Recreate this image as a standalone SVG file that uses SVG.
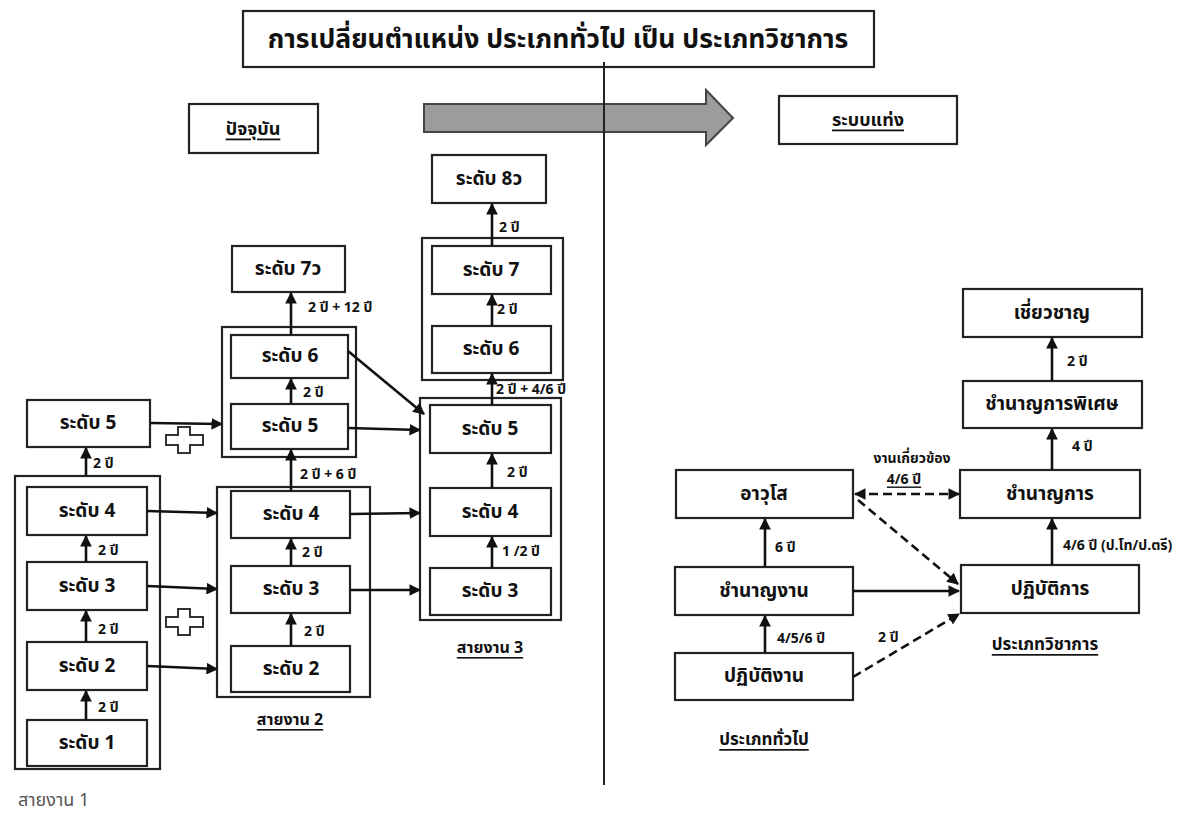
<svg xmlns="http://www.w3.org/2000/svg" width="1202" height="829" viewBox="0 0 1202 829">
<style>
.box{fill:#fff;stroke:#222;stroke-width:2.2}
.grp{fill:none;stroke:#222;stroke-width:2.2}
.t{font-family:"Noto Sans Thai","Loma","Garuda","Tlwg Typo","DejaVu Sans",sans-serif;font-weight:bold;fill:#111;text-anchor:middle;dominant-baseline:central}
.n{font-size:19px}
.lb{font-size:14px;text-anchor:start}
.u{text-decoration:underline}
.c{fill:none;stroke:#111;stroke-width:2.6}
.d{fill:none;stroke:#111;stroke-width:2.6;stroke-dasharray:9 5}
.plus{fill:#fff;stroke:#333;stroke-width:2}
</style>
<defs>
<marker id="ah" viewBox="0 0 10 10" refX="9" refY="5" markerWidth="4.5" markerHeight="4.5" orient="auto-start-reverse"><path d="M0,0 L10,5 L0,10 z" fill="#111"/></marker>
</defs>
<rect width="1202" height="829" fill="#fff"/>
<g id="title"><rect class="box" x="243" y="11" width="631" height="56"/><text class="t" x="558" y="40" font-size="26.5">การเปลี่ยนตำแหน่ง ประเภททั่วไป เป็น ประเภทวิชาการ</text></g>
<g id="hdr-current"><rect class="box" x="189" y="104" width="129" height="49"/><text class="t u" x="253" y="129" font-size="18">ปัจจุบัน</text></g>
<g id="big-arrow"><path d="M424,104 H706 V90 L733,118 L706,145 V132 H424 Z" fill="#9c9c9c" stroke="#444" stroke-width="2"/></g>
<g id="hdr-new"><rect class="box" x="779" y="96" width="178" height="48"/><text class="t u" x="868" y="120" font-size="18">ระบบแท่ง</text></g>
<g id="divider"><line x1="604" y1="62" x2="604" y2="785" stroke="#222" stroke-width="2"/></g>

<g id="group1"><rect class="grp" x="15" y="476" width="145" height="293"/></g>
<g id="group2a"><rect class="grp" x="222" y="327" width="134" height="130"/></g>
<g id="group2b"><rect class="grp" x="217" y="487" width="153" height="210"/></g>
<g id="group3a"><rect class="grp" x="422" y="238" width="141" height="142"/></g>
<g id="group3b"><rect class="grp" x="420" y="398" width="141" height="222"/></g>

<g id="l1-5"><rect class="box" x="27" y="400" width="123" height="47"/><text class="t n" x="88" y="423">ระดับ 5</text></g>
<g id="l1-4"><rect class="box" x="27" y="487" width="120" height="48"/><text class="t n" x="87" y="511">ระดับ 4</text></g>
<g id="l1-3"><rect class="box" x="27" y="562" width="120" height="48"/><text class="t n" x="87" y="586">ระดับ 3</text></g>
<g id="l1-2"><rect class="box" x="27" y="642" width="120" height="48"/><text class="t n" x="87" y="666">ระดับ 2</text></g>
<g id="l1-1"><rect class="box" x="27" y="720" width="120" height="46"/><text class="t n" x="87" y="743">ระดับ 1</text></g>

<g id="l2-7v"><rect class="box" x="232" y="246" width="113" height="46"/><text class="t n" x="288" y="269">ระดับ 7ว</text></g>
<g id="l2-6"><rect class="box" x="231" y="335" width="117" height="43"/><text class="t n" x="290" y="356">ระดับ 6</text></g>
<g id="l2-5"><rect class="box" x="231" y="404" width="117" height="45"/><text class="t n" x="290" y="426">ระดับ 5</text></g>
<g id="l2-4"><rect class="box" x="231" y="491" width="119" height="47"/><text class="t n" x="291" y="514">ระดับ 4</text></g>
<g id="l2-3"><rect class="box" x="231" y="566" width="119" height="47"/><text class="t n" x="291" y="589">ระดับ 3</text></g>
<g id="l2-2"><rect class="box" x="231" y="646" width="119" height="46"/><text class="t n" x="291" y="669">ระดับ 2</text></g>

<g id="l3-8v"><rect class="box" x="432" y="155" width="114" height="48"/><text class="t n" x="489" y="179">ระดับ 8ว</text></g>
<g id="l3-7"><rect class="box" x="432" y="246" width="119" height="48"/><text class="t n" x="491" y="270">ระดับ 7</text></g>
<g id="l3-6"><rect class="box" x="432" y="326" width="119" height="47"/><text class="t n" x="491" y="349">ระดับ 6</text></g>
<g id="l3-5"><rect class="box" x="430" y="405" width="121" height="48"/><text class="t n" x="490" y="429">ระดับ 5</text></g>
<g id="l3-4"><rect class="box" x="430" y="488" width="121" height="48"/><text class="t n" x="490" y="512">ระดับ 4</text></g>
<g id="l3-3"><rect class="box" x="430" y="568" width="121" height="47"/><text class="t n" x="490" y="591">ระดับ 3</text></g>

<g id="r-expert"><rect class="box" x="963" y="289" width="179" height="48"/><text class="t n" x="1052" y="313">เชี่ยวชาญ</text></g>
<g id="r-special"><rect class="box" x="963" y="381" width="179" height="47"/><text class="t n" x="1052" y="404">ชำนาญการพิเศษ</text></g>
<g id="r-pro"><rect class="box" x="960" y="470" width="180" height="48"/><text class="t n" x="1050" y="494">ชำนาญการ</text></g>
<g id="r-op"><rect class="box" x="961" y="565" width="178" height="48"/><text class="t n" x="1050" y="589">ปฏิบัติการ</text></g>
<g id="g-senior"><rect class="box" x="676" y="470" width="177" height="48"/><text class="t n" x="764" y="494">อาวุโส</text></g>
<g id="g-exp"><rect class="box" x="675" y="567" width="178" height="48"/><text class="t n" x="764" y="591">ชำนาญงาน</text></g>
<g id="g-op"><rect class="box" x="675" y="653" width="178" height="47"/><text class="t n" x="764" y="676">ปฏิบัติงาน</text></g>

<g id="plus1"><path class="plus" d="M178,427 h12 v8 h13 v10 h-13 v8 h-12 v-8 h-12 v-10 h12 z"/></g>
<g id="plus2"><path class="plus" d="M178,609 h12 v8 h13 v10 h-13 v8 h-12 v-8 h-12 v-10 h12 z"/></g>

<g id="connectors">
<line class="c" x1="86" y1="720" x2="86" y2="691" marker-end="url(#ah)"/>
<line class="c" x1="86" y1="642" x2="86" y2="611" marker-end="url(#ah)"/>
<line class="c" x1="86" y1="562" x2="86" y2="536" marker-end="url(#ah)"/>
<line class="c" x1="86" y1="476" x2="86" y2="448" marker-end="url(#ah)"/>
<line class="c" x1="291" y1="646" x2="291" y2="614" marker-end="url(#ah)"/>
<line class="c" x1="291" y1="566" x2="291" y2="539" marker-end="url(#ah)"/>
<line class="c" x1="291" y1="491" x2="291" y2="450" marker-end="url(#ah)"/>
<line class="c" x1="291" y1="404" x2="291" y2="379" marker-end="url(#ah)"/>
<line class="c" x1="291" y1="335" x2="291" y2="293" marker-end="url(#ah)"/>
<line class="c" x1="492" y1="568" x2="492" y2="537" marker-end="url(#ah)"/>
<line class="c" x1="492" y1="488" x2="492" y2="454" marker-end="url(#ah)"/>
<line class="c" x1="492" y1="405" x2="492" y2="374" marker-end="url(#ah)"/>
<line class="c" x1="492" y1="326" x2="492" y2="295" marker-end="url(#ah)"/>
<line class="c" x1="492" y1="246" x2="492" y2="204" marker-end="url(#ah)"/>
<line class="c" x1="150" y1="423" x2="222" y2="424" marker-end="url(#ah)"/>
<line class="c" x1="147" y1="511" x2="217" y2="513" marker-end="url(#ah)"/>
<line class="c" x1="147" y1="586" x2="217" y2="589" marker-end="url(#ah)"/>
<line class="c" x1="147" y1="666" x2="217" y2="669" marker-end="url(#ah)"/>
<line class="c" x1="348" y1="351" x2="424" y2="414" marker-end="url(#ah)"/>
<line class="c" x1="348" y1="428" x2="420" y2="430" marker-end="url(#ah)"/>
<line class="c" x1="350" y1="514" x2="420" y2="513" marker-end="url(#ah)"/>
<line class="c" x1="350" y1="590" x2="420" y2="590" marker-end="url(#ah)"/>
<line class="c" x1="1052" y1="565" x2="1052" y2="519" marker-end="url(#ah)"/>
<line class="c" x1="1052" y1="470" x2="1052" y2="429" marker-end="url(#ah)"/>
<line class="c" x1="1052" y1="381" x2="1052" y2="338" marker-end="url(#ah)"/>
<line class="c" x1="765" y1="653" x2="765" y2="616" marker-end="url(#ah)"/>
<line class="c" x1="765" y1="567" x2="765" y2="519" marker-end="url(#ah)"/>
<line class="d" x1="855" y1="494" x2="959" y2="494" marker-start="url(#ah)" marker-end="url(#ah)"/>
<line class="d" x1="858" y1="500" x2="958" y2="584" marker-end="url(#ah)"/>
<line class="c" x1="853" y1="591" x2="959" y2="591" marker-end="url(#ah)"/>
<line class="d" x1="853" y1="677" x2="959" y2="614" marker-end="url(#ah)"/>
</g>

<g id="labels">
<text class="t lb" x="98" y="707">2 ปี</text>
<text class="t lb" x="98" y="629">2 ปี</text>
<text class="t lb" x="98" y="550">2 ปี</text>
<text class="t lb" x="93" y="463">2 ปี</text>
<text class="t lb" x="304" y="631">2  ปี</text>
<text class="t lb" x="302" y="552">2 ปี</text>
<text class="t lb" x="300" y="474">2 ปี + 6 ปี</text>
<text class="t lb" x="303" y="392">2 ปี</text>
<text class="t lb" x="308" y="307">2 ปี + 12 ปี</text>
<text class="t lb" x="502" y="551">1 /2 ปี</text>
<text class="t lb" x="507" y="472">2 ปี</text>
<text class="t lb" x="496" y="389">2 ปี + 4/6 ปี</text>
<text class="t lb" x="497" y="309">2 ปี</text>
<text class="t lb" x="499" y="227">2 ปี</text>
<text class="t lb" x="1067" y="361">2 ปี</text>
<text class="t lb" x="1072" y="446">4 ปี</text>
<text class="t lb" x="1063" y="545">4/6 ปี (ป.โท/ป.ตรี)</text>
<text class="t lb" x="775" y="547">6 ปี</text>
<text class="t lb" x="777" y="638">4/5/6 ปี</text>
<text class="t lb" x="878" y="637">2 ปี</text>
<text class="t" x="912" y="458" font-size="14">งานเกี่ยวข้อง</text>
<text class="t u" x="904" y="479" font-size="14">4/6 ปี</text>
<text class="t u" x="290" y="720" font-size="16">สายงาน 2</text>
<text class="t u" x="490" y="648" font-size="16">สายงาน 3</text>
<text class="t u" x="764" y="740" font-size="17">ประเภททั่วไป</text>
<text class="t u" x="1045" y="645" font-size="17">ประเภทวิชาการ</text>
<text x="18" y="806" font-family="'Noto Sans Thai','Loma','DejaVu Sans',sans-serif" font-size="18" fill="#555">สายงาน 1</text>
</g>
</svg>
